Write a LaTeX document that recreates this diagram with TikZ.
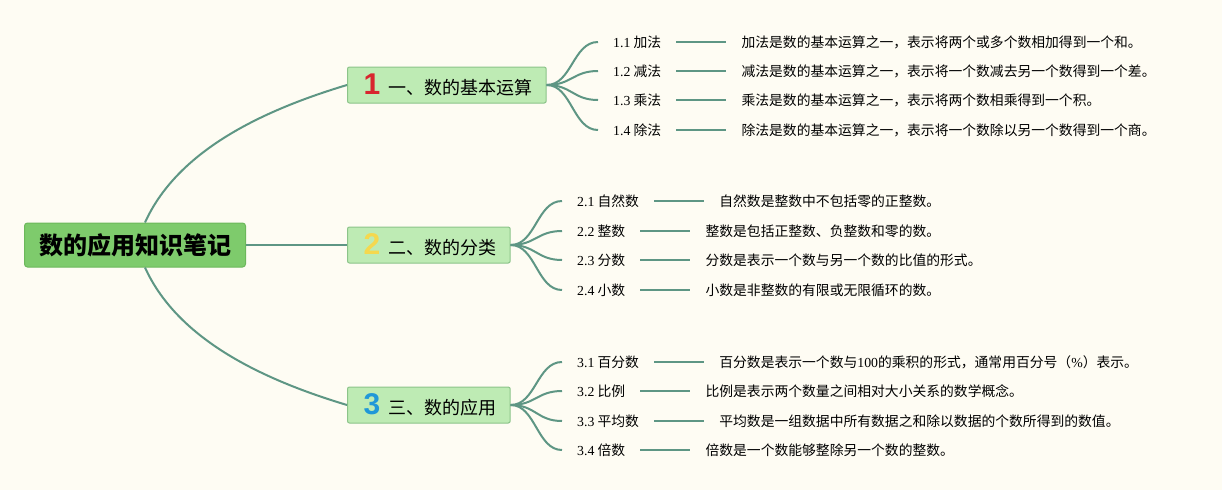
\documentclass[tikz,border=0pt]{standalone}
\usepackage{fontspec}
\setmainfont{Noto Sans CJK SC}
\newfontfamily\numfont{Liberation Serif}
\newfontfamily\badgefont{Liberation Sans}
\usetikzlibrary{positioning}
\definecolor{bgcream}{HTML}{FEFCF3}
\definecolor{rootgreen}{HTML}{7ECB6C}
\definecolor{rootborder}{HTML}{6CB85B}
\definecolor{topicgreen}{HTML}{BEEBB4}
\definecolor{topicborder}{HTML}{8CC489}
\definecolor{linkteal}{HTML}{5E9684}
\definecolor{badgered}{HTML}{D8252E}
\definecolor{badgeyellow}{HTML}{F5D84E}
\definecolor{badgeblue}{HTML}{2098D8}
\newcommand\badge[2]{\hspace{2pt}{\badgefont\bfseries\fontsize{30}{30}\selectfont\color{#1}#2}\hspace{8pt}}
\begin{document}
\begin{tikzpicture}[x=1pt, y=-1pt,
  rootnode/.style = {shape = rectangle,
                     rounded corners = 3pt,
                     fill = rootgreen,
                     draw = rootborder,
                     line width = 1pt,
                     minimum width = 221pt,
                     minimum height = 44pt,
                     font = \fontsize{24}{27}\selectfont\bfseries},
  topicnode/.style = {shape = rectangle,
                      rounded corners = 2pt,
                      fill = topicgreen,
                      draw = topicborder,
                      line width = 1pt,
                      anchor = west,
                      inner xsep = 14pt,
                      minimum height = 36pt,
                      font = \fontsize{18}{21}\selectfont},
  subnode/.style = {anchor = west,
                    inner xsep = 15pt,
                    inner ysep = 2pt,
                    font = \fontsize{13.8}{16}\selectfont},
  descnode/.style = {inner xsep = 15pt,
                     inner ysep = 2pt,
                     font = \fontsize{13.8}{16}\selectfont},
  link/.style = {draw = linkteal, line width = 2pt}]
    \useasboundingbox (0,0) rectangle (1222,490);
    \fill[bgcream] (0,0) rectangle (1222,490);

    % root and the three topics
    \node[rootnode] (root) at (135,245) {数的应用知识笔记};
    \node[topicnode] (t1) at (347,85) {\badge{badgered}{1}一、数的基本运算};
    \node[topicnode] (t2) at (347,245) {\badge{badgeyellow}{2}二、数的分类};
    \node[topicnode] (t3) at (347,405) {\badge{badgeblue}{3}三、数的应用};

    \path[link] ([xshift=10pt]root.north) .. controls (176.5,153) and (257,112) .. (t1.west);
    \path[link] (root.east) -- (t2.west);
    \path[link] ([xshift=10pt]root.south) .. controls (176.5,337) and (257,378) .. (t3.west);

    % topic 1
    \node[subnode] (s11) at (598,42) {{\numfont 1.1} 加法};
    \node[subnode] (s12) at (598,71) {{\numfont 1.2} 减法};
    \node[subnode] (s13) at (598,100) {{\numfont 1.3} 乘法};
    \node[subnode] (s14) at (598,130) {{\numfont 1.4} 除法};
    \node[descnode, right = 50pt of s11] (d11) {加法是数的基本运算之一，表示将两个或多个数相加得到一个和。};
    \node[descnode, right = 50pt of s12] (d12) {减法是数的基本运算之一，表示将一个数减去另一个数得到一个差。};
    \node[descnode, right = 50pt of s13] (d13) {乘法是数的基本运算之一，表示将两个数相乘得到一个积。};
    \node[descnode, right = 50pt of s14] (d14) {除法是数的基本运算之一，表示将一个数除以另一个数得到一个商。};

    % topic 2
    \node[subnode] (s21) at (562,201) {{\numfont 2.1} 自然数};
    \node[subnode] (s22) at (562,231) {{\numfont 2.2} 整数};
    \node[subnode] (s23) at (562,260) {{\numfont 2.3} 分数};
    \node[subnode] (s24) at (562,290) {{\numfont 2.4} 小数};
    \node[descnode, right = 50pt of s21] (d21) {自然数是整数中不包括零的正整数。};
    \node[descnode, right = 50pt of s22] (d22) {整数是包括正整数、负整数和零的数。};
    \node[descnode, right = 50pt of s23] (d23) {分数是表示一个数与另一个数的比值的形式。};
    \node[descnode, right = 50pt of s24] (d24) {小数是非整数的有限或无限循环的数。};

    % topic 3
    \node[subnode] (s31) at (562,362) {{\numfont 3.1} 百分数};
    \node[subnode] (s32) at (562,391) {{\numfont 3.2} 比例};
    \node[subnode] (s33) at (562,421) {{\numfont 3.3} 平均数};
    \node[subnode] (s34) at (562,450) {{\numfont 3.4} 倍数};
    \node[descnode, right = 50pt of s31] (d31) {百分数是表示一个数与{\numfont 100}的乘积的形式，通常用百分号（{\numfont\%}）表示。};
    \node[descnode, right = 50pt of s32] (d32) {比例是表示两个数量之间相对大小关系的数学概念。};
    \node[descnode, right = 50pt of s33] (d33) {平均数是一组数据中所有数据之和除以数据的个数所得到的数值。};
    \node[descnode, right = 50pt of s34] (d34) {倍数是一个数能够整除另一个数的整数。};

    \foreach \t/\s in {t1/s11,t1/s12,t1/s13,t1/s14,t2/s21,t2/s22,t2/s23,t2/s24,t3/s31,t3/s32,t3/s33,t3/s34}
      \path[link] (\t.east) .. controls +(25,0) and +(-25,0) .. (\s.west);
    \foreach \n in {11,12,13,14,21,22,23,24,31,32,33,34}
      \path[link] (s\n.east) -- (d\n.west);
\end{tikzpicture}
\end{document}
